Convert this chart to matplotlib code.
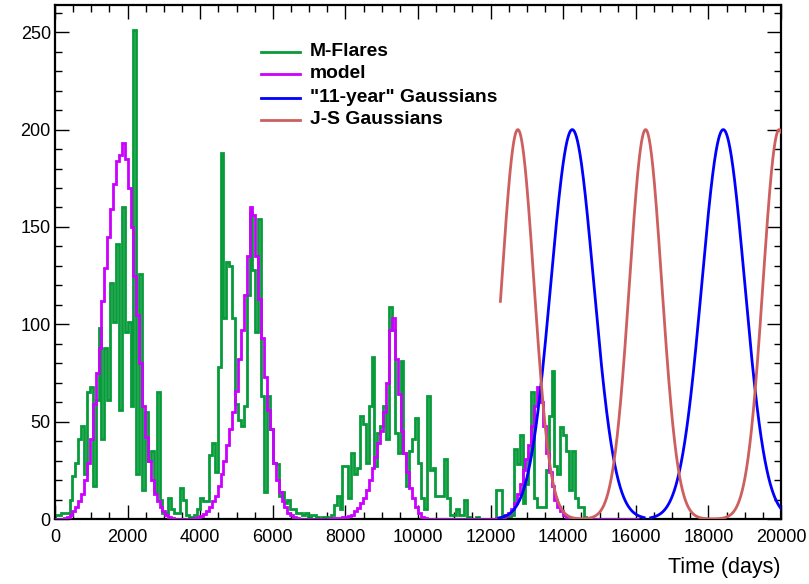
import numpy as np
import matplotlib.pyplot as plt
from matplotlib.lines import Line2D
from matplotlib.ticker import MultipleLocator

plt.rcParams['font.family'] = ['Liberation Sans', 'DejaVu Sans']

# Histograms use 80-day bins starting at day 0
bin_width = 80

# M-class flare counts per bin (0 .. 20000 days)
flares = [
    2, 2, 3, 3, 3, 10, 22, 29, 41, 48,
    23, 65, 68, 17, 61, 98, 41, 88, 61, 121,
    101, 141, 56, 160, 96, 101, 58, 251, 23, 126,
    15, 55, 30, 35, 14, 65, 10, 3, 3, 11,
    5, 3, 3, 16, 10, 2, 1, 1, 2, 5,
    11, 9, 9, 33, 39, 24, 78, 188, 103, 132,
    130, 103, 59, 51, 48, 58, 115, 157, 128, 96,
    154, 63, 14, 63, 46, 29, 28, 12, 14, 8,
    10, 5, 5, 3, 3, 2, 3, 1, 2, 2,
    1, 0, 1, 1, 0, 2, 7, 12, 5, 27,
    27, 11, 34, 23, 26, 53, 49, 29, 58, 83,
    27, 44, 48, 58, 41, 109, 97, 44, 34, 81,
    34, 17, 35, 41, 52, 29, 11, 5, 63, 25,
    26, 12, 12, 12, 31, 11, 2, 2, 5, 2,
    2, 10, 1, 0, 0, 1, 0, 0, 0, 0,
    0, 0, 15, 15, 2, 1, 1, 2, 36, 28,
    43, 8, 18, 34, 65, 11, 6, 6, 6, 25,
    53, 76, 27, 23, 47, 43, 35, 15, 35, 11,
    6, 6, 1, 0, 0, 0, 0, 0, 0, 0,
    0, 0, 0, 0, 0, 0, 0, 0, 0, 0,
    0, 0, 0, 0, 0, 0, 0, 0, 0, 0,
    0, 0, 0, 0, 0, 0, 0, 0, 0, 0,
    0, 0, 0, 0, 0, 0, 0, 0, 0, 0,
    0, 0, 0, 0, 0, 0, 0, 0, 0, 0,
    0, 0, 0, 0, 0, 0, 0, 0, 0, 0,
]

# model prediction per bin (0 .. 16080 days)
model = [
    0, 0, 0, 0.5, 1, 2, 4, 6, 9, 13,
    20, 29, 41, 59, 75, 88, 112, 129, 145, 159,
    172, 184, 187, 193, 185, 170, 150, 125, 105, 80,
    58, 42, 30, 20, 13, 9, 6, 4, 2, 1,
    0.5, 0, 0, 0, 0, 0, 0, 0, 0.5, 1,
    1.5, 2.5, 4, 6, 9, 12, 17, 23, 30, 38,
    46, 55, 66, 82, 97, 115, 135, 160, 156, 135,
    113, 93, 73, 56, 46, 29, 20, 14, 9, 6,
    3, 2, 1, 0.5, 0, 0, 0, 0, 0, 0,
    0, 0, 0, 0, 0, 0.3, 0.5, 0.5, 0.7, 0.8,
    1, 1.5, 2, 4, 5.5, 8, 11, 15, 20, 26,
    32, 39, 45, 55, 70, 97, 103, 82, 64, 45,
    34, 24, 16, 11, 6, 3, 1, 0.5, 0, 0,
    0, 0, 0, 0, 0, 0, 0, 0, 0, 0,
    0, 0, 0, 0, 0, 0, 0, 0, 0, 0,
    0, 0, 0.3, 0.5, 1, 2, 3, 5, 8, 13,
    18, 25, 31, 38, 48, 58, 68, 60, 48, 34,
    24, 17, 10, 6, 4, 2, 1, 0.5, 0, 0,
    0, 0, 0, 0, 0, 0, 0, 0, 0, 0,
    0, 0, 0, 0, 0, 0, 0, 0, 0, 0,
    0,
]

# Gaussian overlays (days)
gauss_height = 200
cycle_centres = [14250, 18410]
cycle_sigma = 590
cycle_spans = [(12230, 16230), (16410, 20000)]
js_centres = [12750, 16270, 19950]
js_sigma = 445
js_span = (12270, 20000)

c_green = '#079b3a'
c_model = '#cc00ff'
c_blue = '#0000ff'
c_red = '#cd5f5f'

W, H = 809, 584
fig = plt.figure(figsize=(W / 100, H / 100), dpi=100)
ax = fig.add_axes([55 / W, 1 - 519 / H, (781 - 55) / W, (519 - 5) / H])

edges = np.arange(len(flares) + 1) * bin_width
ax.stairs(flares, edges, color=c_green, lw=2, zorder=2)
edges = np.arange(len(model) + 1) * bin_width
ax.stairs(model, edges, color=c_model, lw=2, zorder=3)


def gauss(x, centres, sigma):
    y = np.zeros_like(x)
    for c in centres:
        y += gauss_height * np.exp(-(x - c) ** 2 / (2 * sigma ** 2))
    return y


for (a, b), c in zip(cycle_spans, cycle_centres):
    x = np.linspace(a, b, 400)
    ax.plot(x, gauss(x, [c], cycle_sigma), color=c_blue, lw=2, zorder=4)

x = np.linspace(js_span[0], js_span[1], 1200)
ax.plot(x, gauss(x, js_centres, js_sigma), color=c_red, lw=2, zorder=5)

ax.set_xlim(0, 20000)
ax.set_ylim(0, 264)
ax.xaxis.set_major_locator(MultipleLocator(2000))
ax.xaxis.set_minor_locator(MultipleLocator(500))
ax.yaxis.set_major_locator(MultipleLocator(50))
ax.yaxis.set_minor_locator(MultipleLocator(10))
ax.tick_params(which='both', direction='in', top=True, right=True,
               width=1, labelsize=13)
ax.tick_params(which='major', length=10)
ax.tick_params(which='minor', length=5)
ax.tick_params(axis='x', pad=7)
ax.tick_params(axis='y', pad=3)
for s in ax.spines.values():
    s.set_linewidth(1.6)

fig.text(781 / W, 1 - 568 / H, 'Time (days)', ha='right', va='center',
         fontsize=15.5)

# legend, no frame
entries = [('M-Flares', c_green), ('model', c_model),
           ('"11-year" Gaussians', c_blue), ('J-S Gaussians', c_red)]
rows = [52, 73.5, 97.5, 120]
for (label, col), yp in zip(entries, rows):
    fig.add_artist(Line2D([261 / W, 300 / W], [1 - yp / H, 1 - yp / H],
                          color=col, lw=2))
    fig.text(310 / W, 1 - yp / H, label, ha='left', va='center',
             fontsize=13.9, fontweight='bold')

fig.savefig('out.png', dpi=100)
